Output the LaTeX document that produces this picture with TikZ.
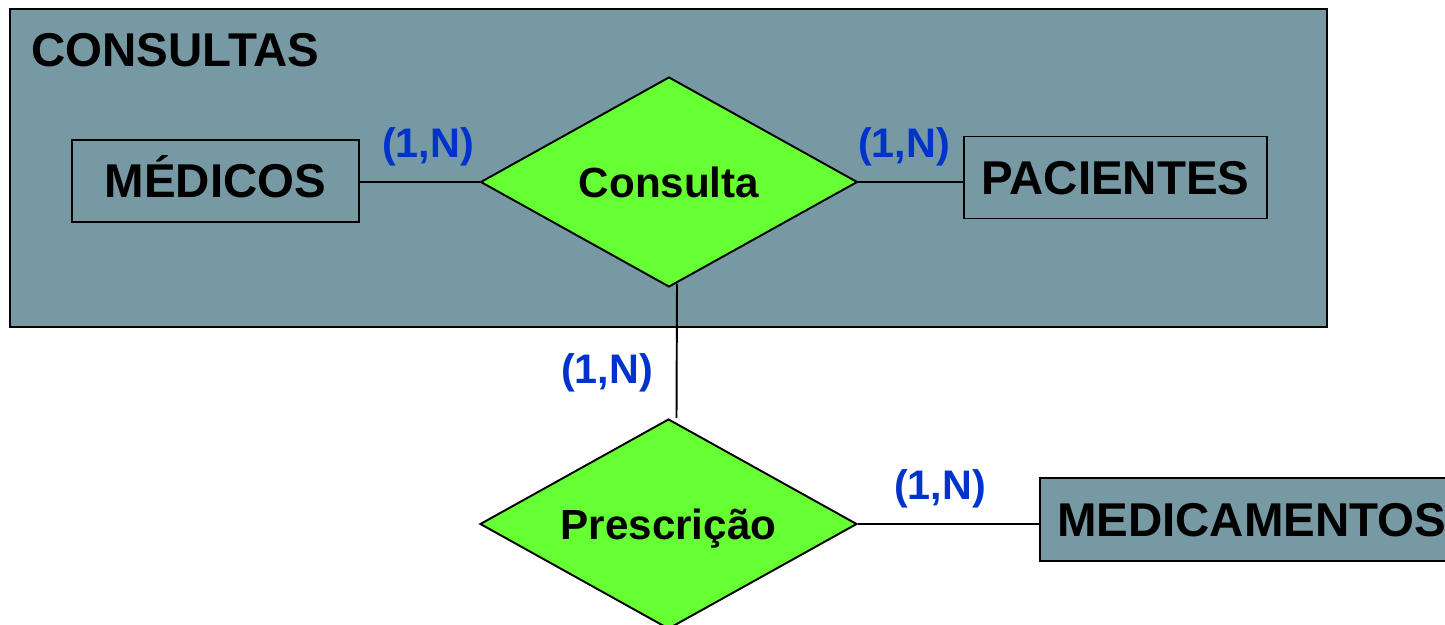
\documentclass[tikz,border=0pt]{standalone}
\usepackage{fontspec}
\setmainfont{Liberation Sans}
\usepackage{xcolor}
\usepackage{tikz}
\usetikzlibrary{shapes.geometric,positioning}
\definecolor{caixa}{RGB}{118,153,164}
\definecolor{losango}{RGB}{102,255,51}
\definecolor{cardinal}{RGB}{0,51,204}
\tikzset{
    agregado/.style={
        rectangle,
        draw=black, line width=1.3pt,
        fill=caixa,
        minimum width=26.34cm,
        minimum height=6.36cm
    },
    titulo/.style={
        font={\fontsize{27pt}{30}\selectfont\bfseries},
        text height=19.3pt, text depth=0pt,
        inner sep=0pt
    },
    entidade/.style={
        rectangle,
        draw=black, line width=1.1pt,
        fill=caixa,
        font={\fontsize{27pt}{30}\selectfont\bfseries},
        text height=19.3pt, text depth=0pt,
        minimum height=1.64cm,
        inner sep=0pt
    },
    relacao/.style={
        diamond, aspect=1.8,
        draw=black, line width=1.1pt,
        fill=losango,
        font={\fontsize{24pt}{28}\selectfont\bfseries},
        text height=17.2pt, text depth=0pt,
        minimum width=7.54cm,
        minimum height=4.2cm,
        inner sep=0pt
    },
    card/.style={
        text=cardinal,
        font={\fontsize{23.5pt}{28}\selectfont\bfseries},
        text height=16.8pt, text depth=0pt,
        inner sep=0pt
    },
    ligacao/.style={draw, line width=1.1pt},
}

\begin{document}
\begin{tikzpicture}[x=0.02cm, y=-0.02cm]
\useasboundingbox (0,0) rectangle (1445,625);
% agregacao
\node[agregado] (consultas) at (668.5,168) {};
\node[titulo, anchor=west] (nomeconsultas) at (31,49.5) {CONSULTAS};
% relacionamento interno
\node[relacao] (consulta) at (669,182) {Consulta};
\node[entidade, minimum width=5.74cm] (medicos) at (215.5,181) {MÉDICOS};
\node[entidade, minimum width=6.06cm] (pacientes) at (1115.5,177.5) {PACIENTES};
\draw[ligacao] (medicos.east |- consulta.west) -- (consulta.west);
\draw[ligacao] (consulta.east) -- (consulta.east -| pacientes.west);
% relacionamento externo
\node[relacao] (prescricao) at (668.5,524) {Prescrição};
\node[entidade, anchor=west, minimum height=1.66cm, inner xsep=0.34cm, line width=1.3pt]
    (medicamentos) at (1039,519.5) {MEDICAMENTOS};
\draw[ligacao] ([xshift=0.16cm, yshift=0.08cm]consulta.south) -- ([xshift=0.16cm]prescricao.north);
\draw[ligacao, line width=1.6pt] (prescricao.east) -- (prescricao.east -| medicamentos.west);
% cardinalidades
\node[card] (cardmedicos) at (428,143) {(1,N)};
\node[card] (cardpacientes) at (904,143) {(1,N)};
\node[card] (cardconsulta) at (607,369) {(1,N)};
\node[card] (cardmedicamentos) at (940,485) {(1,N)};
\end{tikzpicture}
\end{document}
